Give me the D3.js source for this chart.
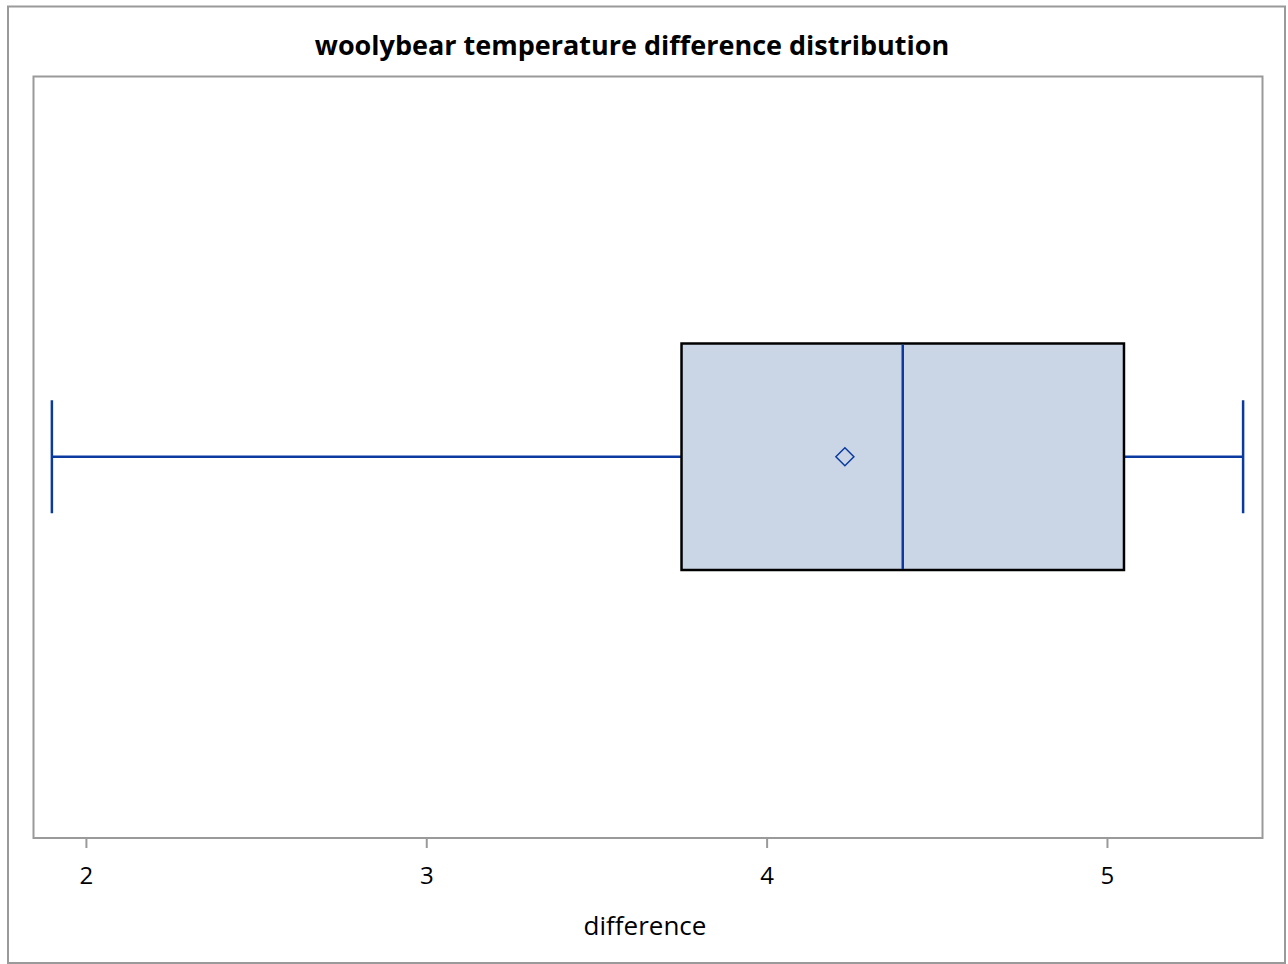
<!DOCTYPE html>
<html><head><meta charset="utf-8">
<script src="https://cdn.jsdelivr.net/npm/d3@7"></script>
<style>body{margin:0;background:#fff}svg{display:block}text{font-family:"Open Sans",sans-serif}</style>
</head><body><svg id="c" width="1288" height="964"></svg>
<script>
const title = "woolybear temperature difference distribution";
const xLabel = "difference";
const tickValues = [2, 3, 4, 5];
const boxStats = [{min: 1.9, q1: 3.75, median: 4.4, q3: 5.05, max: 5.4, mean: 4.23}];
const xDomain = [1.846, 5.457];

const svg = d3.select("#c");
const plot = {left: 33.5, top: 76.5, right: 1262.5, bottom: 838};

svg.append("rect").attr("x", 8).attr("y", 6.5).attr("width", 1277).attr("height", 956.5)
  .attr("fill", "#fff").attr("stroke", "#9a9a9a").attr("stroke-width", 2);

const x = d3.scaleLinear().domain(xDomain).range([plot.left, plot.right]);
const y = d3.scaleBand().domain([0]).range([plot.top, plot.bottom]);
const cy = y(0) + y.bandwidth() / 2 - 0.5;
const boxH = 226.5, capH = 113;

svg.append("text").attr("x", 632).attr("y", 55).attr("text-anchor", "middle")
  .attr("font-size", 27).attr("font-weight", "bold").attr("fill", "#000").text(title);

svg.append("rect").attr("x", plot.left).attr("y", plot.top)
  .attr("width", plot.right - plot.left).attr("height", plot.bottom - plot.top)
  .attr("fill", "#fff").attr("stroke", "#9a9a9a").attr("stroke-width", 2);

const g = svg.selectAll("g.box").data(boxStats).join("g").attr("class", "box");
const blue = "#0a3aa0";
g.append("line").attr("x1", d => x(d.min)).attr("x2", d => x(d.q1)).attr("y1", cy).attr("y2", cy)
  .attr("stroke", blue).attr("stroke-width", 2.5);
g.append("line").attr("x1", d => x(d.q3)).attr("x2", d => x(d.max)).attr("y1", cy).attr("y2", cy)
  .attr("stroke", blue).attr("stroke-width", 2.5);
g.append("line").attr("x1", d => x(d.min)).attr("x2", d => x(d.min)).attr("y1", cy - capH / 2).attr("y2", cy + capH / 2)
  .attr("stroke", blue).attr("stroke-width", 2.5);
g.append("line").attr("x1", d => x(d.max)).attr("x2", d => x(d.max)).attr("y1", cy - capH / 2).attr("y2", cy + capH / 2)
  .attr("stroke", blue).attr("stroke-width", 2.5);
g.append("rect").attr("x", d => x(d.q1)).attr("y", cy - boxH / 2)
  .attr("width", d => x(d.q3) - x(d.q1)).attr("height", boxH)
  .attr("fill", "#cad6e6").attr("stroke", "#000").attr("stroke-width", 2.5);
g.append("line").attr("x1", d => x(d.median)).attr("x2", d => x(d.median)).attr("y1", cy - boxH / 2 + 1).attr("y2", cy + boxH / 2 - 1)
  .attr("stroke", blue).attr("stroke-width", 2.5);
g.append("path").attr("transform", d => `translate(${x(d.mean)},${cy})`)
  .attr("d", "M0,-9L9,0L0,9L-9,0Z").attr("fill", "none").attr("stroke", blue).attr("stroke-width", 1.5);

const axis = d3.axisBottom(x).tickValues(tickValues).tickFormat(d3.format("d")).tickSize(9).tickPadding(19);
const ax = svg.append("g").attr("transform", `translate(0,${plot.bottom + 1})`).call(axis);
ax.select(".domain").remove();
ax.selectAll(".tick line").attr("stroke", "#9a9a9a").attr("stroke-width", 2);
ax.selectAll(".tick text").attr("font-size", 24).attr("fill", "#000").attr("font-family", "'Open Sans',sans-serif");

svg.append("text").attr("x", 645).attr("y", 935).attr("text-anchor", "middle")
  .attr("font-size", 26).attr("fill", "#000").text(xLabel);
</script></body></html>
